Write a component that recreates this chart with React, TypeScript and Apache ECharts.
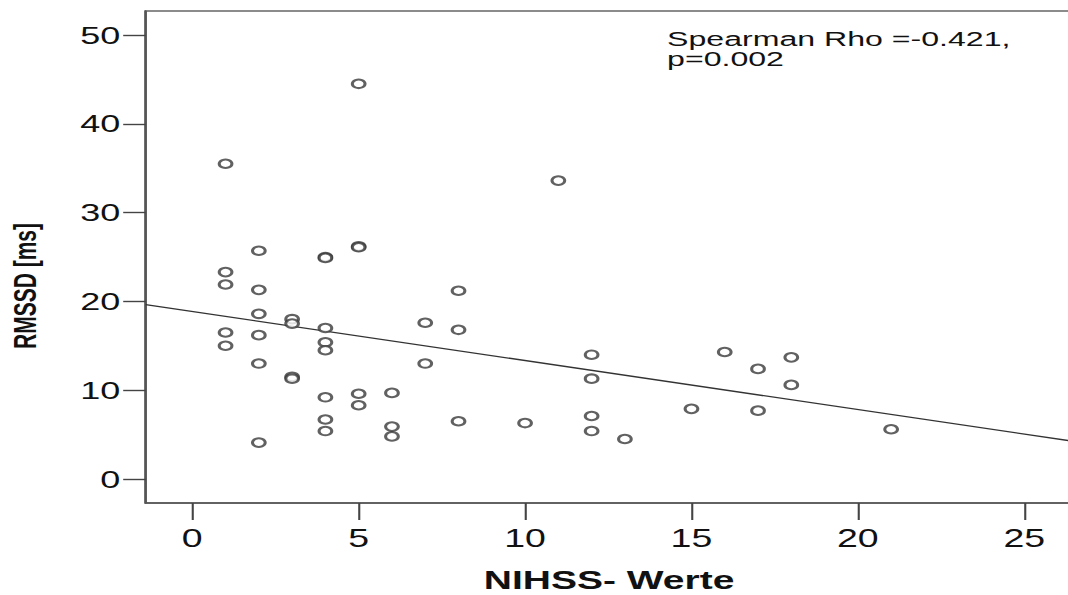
import React, { useEffect, useRef } from "react";
import * as echarts from "echarts";

// NIHSS score (x) and RMSSD in ms (y) for each patient
const nihss = [
  1, 1, 1, 1, 1,
  2, 2, 2, 2, 2, 2,
  3, 3, 3, 3,
  4, 4, 4, 4, 4, 4, 4, 4,
  5, 5, 5, 5, 5,
  6, 6, 6,
  7, 7,
  8, 8, 8,
  10,
  11,
  12, 12, 12, 12,
  13,
  15,
  16,
  17, 17,
  18, 18,
  21,
];
const rmssd = [
  35.5, 23.3, 21.9, 16.5, 15.0,
  25.7, 21.3, 18.6, 16.2, 13.0, 4.1,
  18.0, 17.5, 11.5, 11.3,
  25.0, 24.9, 17.0, 15.4, 14.5, 9.2, 6.7, 5.4,
  44.5, 26.2, 26.1, 9.6, 8.3,
  9.7, 5.9, 4.8,
  17.6, 13.0,
  21.2, 16.8, 6.5,
  6.3,
  33.6,
  14.0, 11.3, 7.1, 5.4,
  4.5,
  7.9,
  14.3,
  12.4, 7.7,
  13.7, 10.6,
  5.6,
];
const xTicks = [0, 5, 10, 15, 20, 25];
const yTicks = [0, 10, 20, 30, 40, 50];
const xRange = [-1.4, 26.45];
const yRange = [-2.7, 52.7];
const xTitle = "NIHSS- Werte";
const yTitle = "RMSSD [ms]";
const annotation = "Spearman Rho =-0.421,\np=0.002";

const STRETCH = 1.5;
const FONT = "'Liberation Sans', Arial, sans-serif";

export default function App() {
  const ref = useRef<HTMLDivElement>(null);
  useEffect(() => {
    if (!ref.current) return;
    const chart = echarts.init(ref.current, undefined, { renderer: "svg" });
    const pts = nihss.map((x, i) => [x, rmssd[i]]);
    // ordinary least squares fit line
    const n = pts.length;
    const mx = nihss.reduce((a, b) => a + b, 0) / n;
    const my = rmssd.reduce((a, b) => a + b, 0) / n;
    let sxy = 0, sxx = 0;
    for (let i = 0; i < n; i++) {
      sxy += (nihss[i] - mx) * (rmssd[i] - my);
      sxx += (nihss[i] - mx) * (nihss[i] - mx);
    }
    const slope = sxy / sxx;
    const icpt = my - slope * mx;
    const fit = [
      [xRange[0], icpt + slope * xRange[0]],
      [xRange[1], icpt + slope * xRange[1]],
    ];
    chart.setOption({
      animation: false,
      backgroundColor: "#ffffff",
      grid: {
        left: 97.13,
        right: -3,
        top: 11,
        bottom: 92,
        outerBoundsMode: "none",
        containLabel: false,
        show: true,
        borderColor: "#666",
        borderWidth: 1.6,
      },
      xAxis: {
        type: "value",
        min: xRange[0],
        max: xRange[1],
        name: xTitle,
        nameLocation: "middle",
        nameGap: 64,
        nameTextStyle: { fontFamily: FONT, fontWeight: "bold", fontSize: 26, color: "#111" },
        splitLine: { show: false },
        axisLine: { show: true, onZero: false, lineStyle: { color: "#555", width: 1.6 } },
        axisTick: { show: true, length: 17, customValues: xTicks, lineStyle: { color: "#444", width: 1.4 } },
        axisLabel: {
          customValues: xTicks,
          margin: 23,
          fontFamily: FONT,
          fontSize: 25,
          color: "#111",
        },
      },
      yAxis: {
        type: "value",
        min: yRange[0],
        max: yRange[1],
        name: yTitle,
        nameLocation: "middle",
        nameGap: 70,
        nameRotate: 90,
        nameTextStyle: {
          fontFamily: FONT,
          fontWeight: "bold",
          fontSize: 21,
          color: "#111",
          padding: [0, 58, 0, 0],
        },
        splitLine: { show: false },
        axisLine: { show: true, onZero: false, lineStyle: { color: "#555", width: 1.6 } },
        axisTick: { show: true, length: 15, customValues: yTicks, lineStyle: { color: "#444", width: 1.4 } },
        axisLabel: {
          customValues: yTicks,
          margin: 17,
          fontFamily: FONT,
          fontSize: 24,
          color: "#111",
          padding: [8, 0, 0, 0],
        },
      },
      series: [
        {
          type: "scatter",
          data: pts,
          symbol: "emptyCircle",
          symbolSize: 8.5,
          itemStyle: { color: "#3a3a3a", borderColor: "#3a3a3a", borderWidth: 1.3 },
          z: 3,
        },
        {
          type: "line",
          data: fit,
          showSymbol: false,
          lineStyle: { color: "#333", width: 1.3 },
          z: 2,
        },
      ],
      graphic: [
        {
          type: "text",
          x: 444.7,
          y: 29,
          scaleX: 1.07,
          style: {
            text: annotation,
            fontFamily: FONT,
            fontSize: 20,
            lineHeight: 20,
            fill: "#111",
          },
        },
      ],
    });
    return () => chart.dispose();
  }, []);
  return (
    <div
      style={{
        position: "fixed",
        left: 0,
        top: 0,
        width: 1068,
        height: 595,
        overflow: "hidden",
        background: "#fff",
      }}
    >
      <div
        ref={ref}
        style={{
          width: 1068 / STRETCH,
          height: 595,
          transform: `scaleX(${STRETCH})`,
          transformOrigin: "0 0",
        }}
      />
    </div>
  );
}
